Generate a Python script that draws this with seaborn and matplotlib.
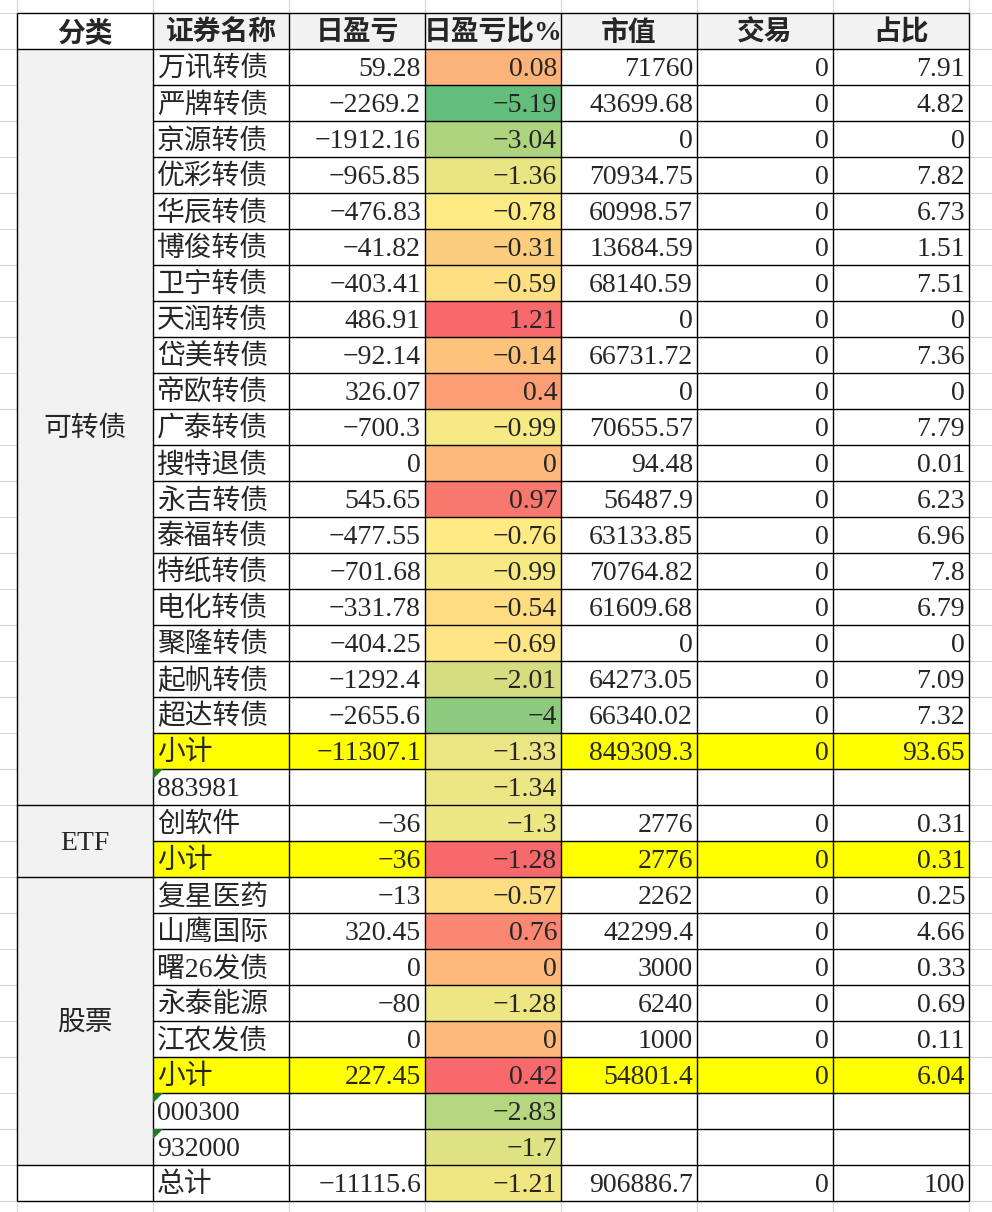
import numpy as np
import pandas as pd
import matplotlib.pyplot as plt
import seaborn as sns
from matplotlib.colors import ListedColormap, LinearSegmentedColormap, TwoSlopeNorm

sns.set_style('white')
plt.rcParams['font.family'] = ['Liberation Serif', 'Noto Sans CJK SC', 'DejaVu Sans']

nan = np.nan
header = ['分类', '证券名称', '日盈亏', '日盈亏比%', '市值', '交易', '占比']

# 可转债
bond_names = ['万讯转债', '严牌转债', '京源转债', '优彩转债', '华辰转债', '博俊转债', '卫宁转债',
              '天润转债', '岱美转债', '帝欧转债', '广泰转债', '搜特退债', '永吉转债', '泰福转债',
              '特纸转债', '电化转债', '聚隆转债', '起帆转债', '超达转债']
bond_pnl = [59.28, -2269.2, -1912.16, -965.85, -476.83, -41.82, -403.41, 486.91, -92.14, 326.07,
            -700.3, 0, 545.65, -477.55, -701.68, -331.78, -404.25, -1292.4, -2655.6]
bond_pct = [0.08, -5.19, -3.04, -1.36, -0.78, -0.31, -0.59, 1.21, -0.14, 0.4,
            -0.99, 0, 0.97, -0.76, -0.99, -0.54, -0.69, -2.01, -4]
bond_mv = [71760, 43699.68, 0, 70934.75, 60998.57, 13684.59, 68140.59, 0, 66731.72, 0,
           70655.57, 94.48, 56487.9, 63133.85, 70764.82, 61609.68, 0, 64273.05, 66340.02]
bond_trade = [0] * 19
bond_share = [7.91, 4.82, 0, 7.82, 6.73, 1.51, 7.51, 0, 7.36, 0,
              7.79, 0.01, 6.23, 6.96, 7.8, 6.79, 0, 7.09, 7.32]
bond_sub = [-11307.1, -1.33, 849309.3, 0, 93.65]
bond_index = ('883981', -1.34)

# ETF
etf_names = ['创软件']
etf_pnl = [-36]
etf_pct = [-1.3]
etf_mv = [2776]
etf_trade = [0]
etf_share = [0.31]
etf_sub = [-36, -1.28, 2776, 0, 0.31]

# 股票
stock_names = ['复星医药', '山鹰国际', '曙26发债', '永泰能源', '江农发债']
stock_pnl = [-13, 320.45, 0, -80, 0]
stock_pct = [-0.57, 0.76, 0, -1.28, 0]
stock_mv = [2262, 42299.4, 3000, 6240, 1000]
stock_trade = [0, 0, 0, 0, 0]
stock_share = [0.25, 4.66, 0.33, 0.69, 0.11]
stock_sub = [227.45, 0.42, 54801.4, 0, 6.04]
stock_index = [('000300', -2.83), ('932000', -1.7)]

total = [-11115.6, -1.21, 906886.7, 0, 100]

# build the table rows
recs = []
def add_group(cat, names, pnl, pct, mv, trade, share, sub, idx):
    for i in range(len(names)):
        recs.append([cat, names[i], pnl[i], pct[i], mv[i], trade[i], share[i], 'item'])
    recs.append([cat, '小计'] + sub + ['sub'])
    for code, p in idx:
        recs.append([cat, code, nan, p, nan, nan, nan, 'code'])

add_group('可转债', bond_names, bond_pnl, bond_pct, bond_mv, bond_trade, bond_share, bond_sub, [bond_index])
add_group('ETF', etf_names, etf_pnl, etf_pct, etf_mv, etf_trade, etf_share, etf_sub, [])
add_group('股票', stock_names, stock_pnl, stock_pct, stock_mv, stock_trade, stock_share, stock_sub, stock_index)
recs.append(['', '总计'] + total + ['total'])

df = pd.DataFrame(recs, columns=header + ['kind'])
n_rows = len(df) + 1
n_cols = len(header)

def fmt(v):
    if pd.isna(v):
        return ''
    return format(v, '.10g').replace('-', '\u2212')

# background fills: 0 white, 1 grey, 2 yellow
bg = np.zeros((n_rows, n_cols))
bg[0, 1:] = 1
for r, row in df.iterrows():
    if row['分类'] != '':
        bg[r + 1, 0] = 1
    if row['kind'] == 'sub':
        bg[r + 1, 1:] = 2

fig = plt.figure(figsize=(9.92, 12.12), dpi=100)
ax = fig.add_axes([0, 0, 1, 1])

# sheet gridlines
ax.vlines(range(-1, 9), -2, 36, color='#D6D6D6', lw=0.8, zorder=0)
ax.hlines(range(-1, 36), -1, 9, color='#D6D6D6', lw=0.8, zorder=0)

sns.heatmap(bg, cmap=ListedColormap(['white', '#F2F2F2', '#FFFF00']), vmin=0, vmax=2,
            cbar=False, xticklabels=False, yticklabels=False, ax=ax)

# colour scale on 日盈亏比%; ETF/股票 subtotals carry their own one-cell rule (max colour)
pct_grid = np.full((n_rows, n_cols), nan)
pct_grid[1:, 3] = df['日盈亏比%'].values
special = np.zeros((n_rows, n_cols), dtype=bool)
for r, row in df.iterrows():
    if row['kind'] == 'sub' and row['分类'] != '可转债':
        special[r + 1, 3] = True
main_vals = pct_grid[np.isfinite(pct_grid) & ~special]
excel_cmap = LinearSegmentedColormap.from_list('excel', ['#63BE7B', '#FFEB84', '#F8696B'])
norm = TwoSlopeNorm(vmin=main_vals.min(), vcenter=np.median(main_vals), vmax=main_vals.max())
sns.heatmap(pct_grid, mask=~np.isfinite(pct_grid) | special, cmap=excel_cmap, norm=norm,
            cbar=False, xticklabels=False, yticklabels=False, ax=ax)
sns.heatmap(pct_grid, mask=~special, cmap=ListedColormap(['#F8696B']),
            cbar=False, xticklabels=False, yticklabels=False, ax=ax)

cw, rh = 136, 36
ax.set_xlim(-17 / cw, (992 - 17) / cw)
ax.set_ylim((1212 - 13) / rh, -13 / rh)
ax.axis('off')

# black cell borders
ax.vlines(range(0, n_cols + 1), 0, n_rows, color='black', lw=1.0, zorder=3)
ax.hlines(range(0, n_rows + 1), 1, n_cols, color='black', lw=1.0, zorder=3)
cats = df['分类'].values
bounds = [0, 1] + [i + 1 for i in range(1, len(cats)) if cats[i] != cats[i - 1]] + [n_rows]
ax.hlines(bounds, 0, 1, color='black', lw=1.0, zorder=3)

fs = 20
ty = 0.57
for c, h in enumerate(header):
    ax.text(c + 0.5, ty, h, ha='center', va='center', fontsize=fs, fontweight='bold', zorder=4)

for i in range(len(bounds) - 2):
    a, b = bounds[i + 1], bounds[i + 2]
    cat = cats[a - 1]
    if cat:
        ax.text(0.5, (a + b) / 2 + 0.07, cat, ha='center', va='center', fontsize=fs, zorder=4)

padx = 4 / cw
for r, row in df.iterrows():
    y = r + 1
    ax.text(1 + padx, y + ty, row['证券名称'], ha='left', va='center', fontsize=fs, zorder=4)
    for c in range(2, n_cols):
        ax.text(c + 1 - padx, y + ty, fmt(row[header[c]]), ha='right', va='center',
                fontsize=fs, zorder=4)
    if row['kind'] == 'code':
        # Excel "number stored as text" marker
        ax.fill([1, 1 + 10 / cw, 1], [y, y, y + 10 / rh], color='#1A7F1A', lw=0, zorder=5)

fig.savefig('out.png', dpi=100)
